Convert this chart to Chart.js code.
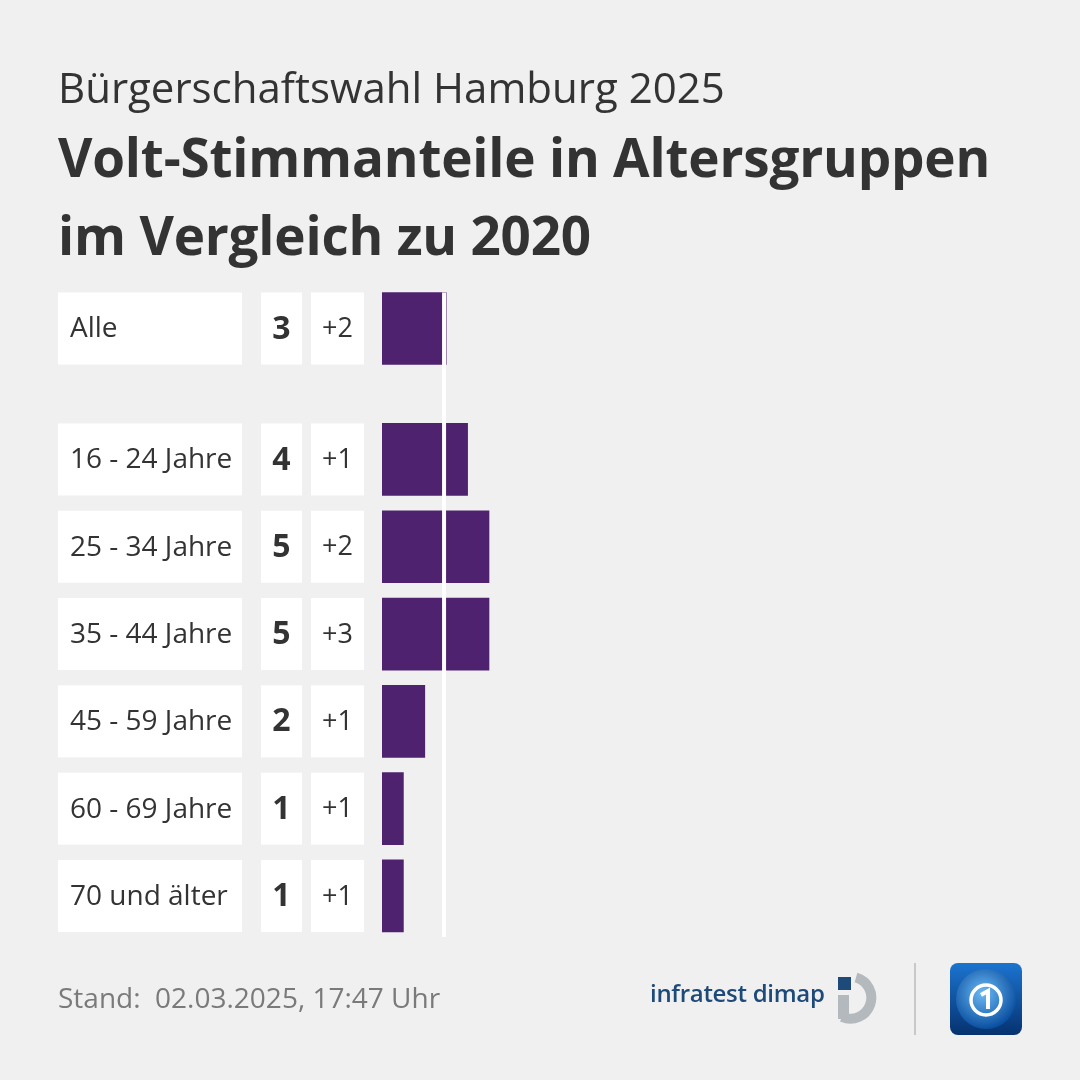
<!DOCTYPE html>
<html lang="de">
<head>
<meta charset="utf-8">
<script src="https://cdn.jsdelivr.net/npm/chart.js@4.4.1/dist/chart.umd.min.js"></script>
<style>
  html, body { margin: 0; padding: 0; }
  body { width: 1080px; height: 1080px; background: #f0f0f0; position: relative; overflow: hidden; font-family: "Open Sans", sans-serif; color: #333; }
  #chart { position: absolute; left: 0; top: 0; }
  .txt { position: absolute; white-space: nowrap; line-height: 1.362; }
  #sub { left: 58px; top: 58px; font-size: 42px; }
  #title { left: 58px; top: 118px; font-size: 53px; font-weight: 700; line-height: 78px; letter-spacing: -0.2px; }
  #stand { left: 58px; top: 978px; font-size: 28px; color: #7a7a7a; }
  #infra { left: 650px; top: 977px; font-size: 24px; color: #1d4a78; font-weight: 600; letter-spacing: -0.3px; }
  #sep { position: absolute; left: 914px; top: 963px; width: 2px; height: 72px; background: #c8c8c8; }
</style>
</head>
<body>
<canvas id="chart" width="1080" height="1080"></canvas>
<div class="txt" id="sub">Bürgerschaftswahl Hamburg 2025</div>
<div class="txt" id="title">Volt-Stimmanteile in Altersgruppen<br>im Vergleich zu 2020</div>
<div class="txt" id="stand">Stand:&nbsp; 02.03.2025, 17:47 Uhr</div>
<div class="txt" id="infra">infratest dimap</div>
<svg style="position:absolute;left:833px;top:972px" width="54" height="54" viewBox="0 0 54 54">
  <rect x="5" y="5" width="13" height="13" fill="#1d4a78"/>
  <path d="M23 5.5 A21 21 0 1 1 9 45" fill="none" stroke="#b4b9be" stroke-width="10"/>
  <rect x="5" y="23" width="11" height="24" fill="#b4b9be"/>
</svg>
<div id="sep"></div>
<svg style="position:absolute;left:950px;top:963px" width="72" height="72" viewBox="0 0 72 72">
  <defs>
    <linearGradient id="g" x1="0" y1="0" x2="0" y2="1">
      <stop offset="0" stop-color="#1b74d0"/>
      <stop offset="1" stop-color="#06326f"/>
    </linearGradient>
    <radialGradient id="gl" cx="0.45" cy="0.4" r="0.6">
      <stop offset="0" stop-color="#6cbaf5"/>
      <stop offset="1" stop-color="#0a4fa0"/>
    </radialGradient>
  </defs>
  <rect x="0" y="0" width="72" height="72" rx="8" fill="url(#g)"/>
  <circle cx="36" cy="36" r="30" fill="url(#gl)"/>
  <circle cx="36" cy="37" r="15" fill="none" stroke="#ffffff" stroke-width="3.5"/>
  <path d="M31 32 L38 28 L38 46" fill="none" stroke="#ffffff" stroke-width="4"/>
</svg>
<script>
const gruppen = ["Alle", "16 - 24 Jahre", "25 - 34 Jahre", "35 - 44 Jahre", "45 - 59 Jahre", "60 - 69 Jahre", "70 und älter"];
const anteile = [3, 4, 5, 5, 2, 1, 1];
const veraenderung = [2, 1, 2, 3, 1, 1, 1];
const referenz = 2.9;

// "Alle" steht oben, danach eine halbe Zeile Abstand
const punkte = gruppen.map((g, i) => ({ x: anteile[i], y: i === 0 ? 0 : i + 0.5 }));

const boxen = {
  id: 'boxen',
  afterDatasetsDraw(chart) {
    const ctx = chart.ctx;
    const xs = chart.scales.x, ys = chart.scales.y;
    const h = 72;
    ctx.save();
    punkte.forEach((p, i) => {
      const yc = ys.getPixelForValue(p.y);
      const top = yc - h / 2;
      ctx.fillStyle = '#ffffff';
      ctx.fillRect(58, top, 184, h);
      ctx.fillRect(261, top, 41, h);
      ctx.fillRect(311, top, 53, h);
      ctx.fillStyle = '#333333';
      ctx.textBaseline = 'middle';
      ctx.textAlign = 'left';
      ctx.font = '28px "Open Sans"';
      ctx.fillText(gruppen[i], 70, yc + 1);
      ctx.textAlign = 'center';
      ctx.font = 'bold 32px "Open Sans"';
      ctx.fillText(String(anteile[i]), 281.5, yc + 1);
      ctx.font = '27px "Open Sans"';
      ctx.fillText('+' + veraenderung[i], 337.5, yc + 1);
    });
    // weiße Referenzlinie
    const xr = xs.getPixelForValue(referenz);
    const y0 = ys.getPixelForValue(punkte[0].y) - h / 2;
    const y1 = ys.getPixelForValue(punkte[punkte.length - 1].y) + h / 2 + 5;
    ctx.strokeStyle = '#ffffff';
    ctx.lineWidth = 4;
    ctx.beginPath();
    ctx.moveTo(xr, y0);
    ctx.lineTo(xr, y1);
    ctx.stroke();
    ctx.restore();
  }
};

new Chart("chart", {
  type: "bar",
  data: {
    datasets: [{
      data: punkte,
      backgroundColor: "#4f2270",
      barThickness: 72
    }]
  },
  options: {
    indexAxis: 'y',
    responsive: false,
    animation: false,
    devicePixelRatio: 1,
    layout: { padding: { left: 382, right: 56, top: 284.85, bottom: 140.4 } },
    scales: {
      x: { type: 'linear', min: 0, max: 30, display: false, offset: false },
      y: { type: 'linear', min: -0.5, max: 7, reverse: true, display: false, offset: false }
    },
    plugins: {
      legend: { display: false },
      tooltip: { enabled: false }
    }
  },
  plugins: [boxen]
});
</script>
</body>
</html>
